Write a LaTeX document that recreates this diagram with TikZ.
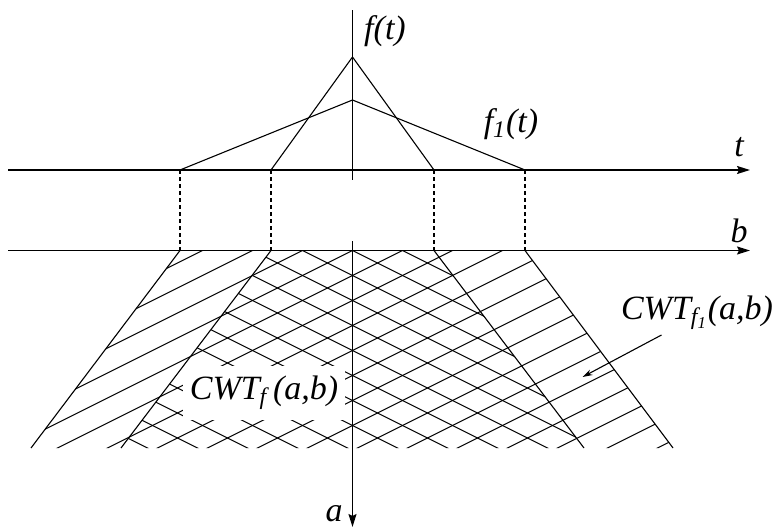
\documentclass[tikz,border=0pt]{standalone}
\usepackage{fontspec}
\setmainfont{Liberation Serif}
\usetikzlibrary{arrows.meta, calc}

\begin{document}
\begin{tikzpicture}[x=0.5pt, y=-0.5pt,
    axis/.style={line width=0.75pt, -{Stealth[length=6.5pt, width=4pt, inset=1pt]}},
    curve/.style={line width=0.55pt},
    guide/.style={line width=0.55pt, dash pattern=on 2pt off 1.5pt},
    hatch/.style={line width=0.55pt},
    pointer/.style={line width=0.55pt, -{Stealth[length=5pt, width=3pt]}},
    lbl/.style={font=\fontsize{17}{20}\selectfont\itshape, inner sep=1pt},
]
\useasboundingbox (0,0) rectangle (778,530);
% axes end points
\coordinate (ftop) at (352.5,10);
\coordinate (fbot) at (352.5,180);
\coordinate (tl) at (8,170);
\coordinate (tr) at (750,170);
\coordinate (bl) at (8,250.5);
\coordinate (br) at (750,250.5);
\coordinate (atop) at (352.5,241);
\coordinate (abot) at (352.5,527);
% signals
\coordinate (fpk) at (352.5,57);
\coordinate (fl) at (271,170);
\coordinate (fr) at (434,170);
\coordinate (gpk) at (352.5,100);
\coordinate (gl) at (180,170);
\coordinate (gr) at (525,170);
% cones of influence
\coordinate (il) at (271,250.5);
\coordinate (ir) at (434,250.5);
\coordinate (ilb) at (121,448);
\coordinate (irb) at (584,448);
\coordinate (ol) at (180,250.5);
\coordinate (or) at (525,250.5);
\coordinate (olb) at (31,448);
\coordinate (orb) at (673,448);

% hatching of the wide cone
\begin{scope}
  \clip (ol) -- (or) -- (orb) -- (olb) -- cycle;
  \foreach \k in {-8,...,16}
    \draw[hatch] (-47.5,450.5+25*\k) -- (752.5,50.5+25*\k);
\end{scope}
% hatching of the narrow cone
\begin{scope}
  \clip (il) -- (ir) -- (irb) -- (ilb) -- cycle;
  \foreach \k in {-8,...,16}
    \draw[hatch] (-47.5,50.5+25*\k) -- (752.5,450.5+25*\k);
\end{scope}
\node[lbl, fill=white, inner xsep=3.5pt, inner ysep=5pt] (cwtf) at (264,393) {CWT\textsubscript{f}\,(a,b)};
\draw[curve] (ol) -- (olb);
\draw[curve] (or) -- (orb);
\draw[curve] (il) -- (ilb);
\draw[curve] (ir) -- (irb);

% signals
\draw[curve] (fl) -- (fpk) -- (fr);
\draw[curve] (gl) -- (gpk) -- (gr);
\draw[guide] (gl) -- (ol);
\draw[guide] (fl) -- (il);
\draw[guide] (fr) -- (ir);
\draw[guide] (gr) -- (or);

% axes
\draw[line width=0.75pt] (ftop) -- (fbot);
\draw[axis] (tl) -- (tr);
\draw[axis] (bl) -- (br);
\draw[axis] (atop) -- (abot);

% labels
\node[lbl] (flab) at (385,31) {f(t)};
\node[lbl] (glab) at (511,124) {f\textsubscript{1}(t)};
\node[lbl] (tlab) at (739,147) {t};
\node[lbl] (blab) at (739,231) {b};
\node[lbl] (alab) at (334,514) {a};
\node[lbl] (cwtg) at (697,313) {CWT\textsubscript{f\textsubscript{1}}(a,b)};
\coordinate (ptail) at (661.5,335);
\coordinate (ptip) at (582.5,377);
\draw[pointer] (ptail) -- (ptip);
\end{tikzpicture}
\end{document}
